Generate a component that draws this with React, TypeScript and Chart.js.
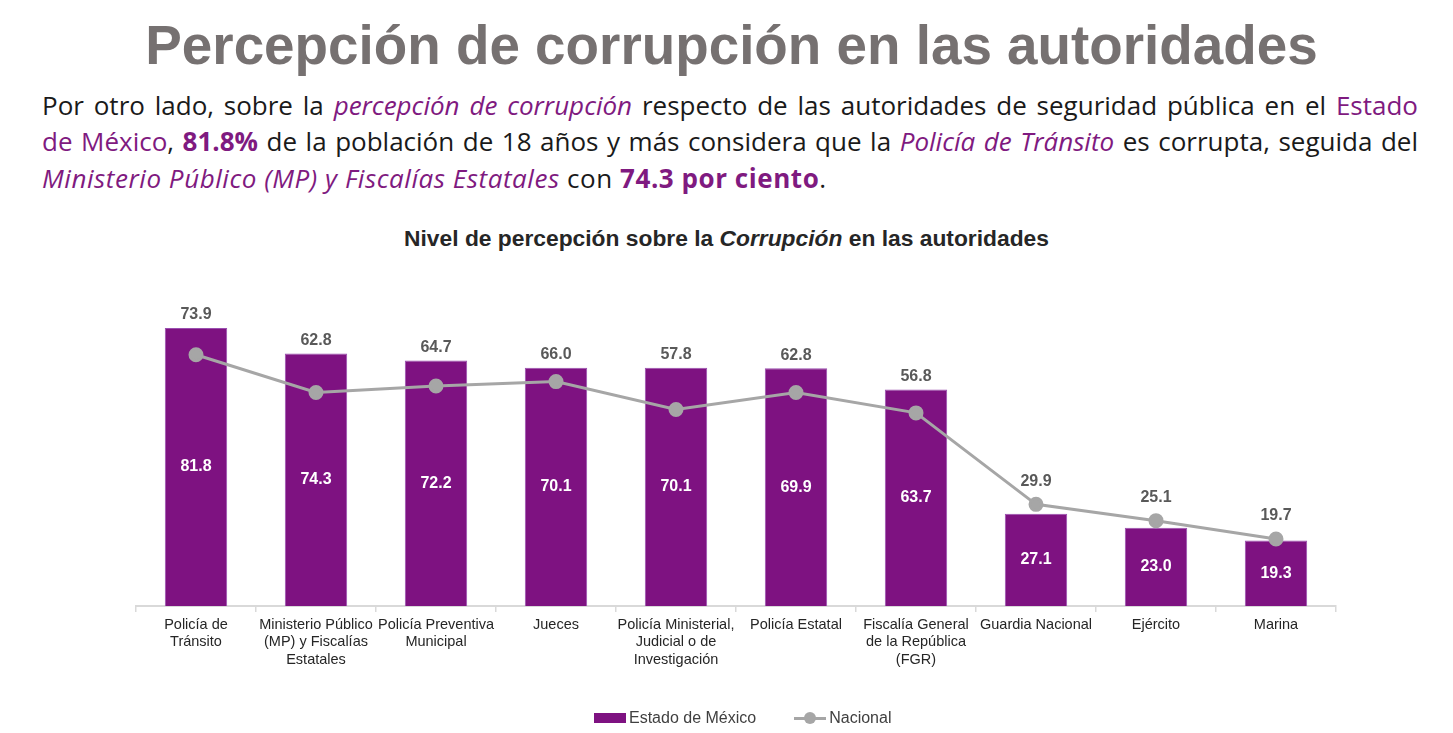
import React, { useEffect, useRef } from "react";
import { Chart, registerables } from "chart.js";

Chart.register(...registerables);

const categories: string[][] = [
  ["Policía de", "Tránsito"],
  ["Ministerio Público", "(MP) y Fiscalías", "Estatales"],
  ["Policía Preventiva", "Municipal"],
  ["Jueces"],
  ["Policía Ministerial,", "Judicial o de", "Investigación"],
  ["Policía Estatal"],
  ["Fiscalía General", "de la República", "(FGR)"],
  ["Guardia Nacional"],
  ["Ejército"],
  ["Marina"],
];
const estadoValues = [81.8, 74.3, 72.2, 70.1, 70.1, 69.9, 63.7, 27.1, 23.0, 19.3];
const nacionalValues = [73.9, 62.8, 64.7, 66.0, 57.8, 62.8, 56.8, 29.9, 25.1, 19.7];
const seriesNames = ["Estado de México", "Nacional"];
const yMin = 0;
const yMax = 90;

const PURPLE = "#7E1281";
const GRAY = "#A6A6A6";
const FONT = '"Liberation Sans", Arial, sans-serif';

const labelsPlugin = {
  id: "valueLabels",
  afterDatasetsDraw(chart: any) {
    const ctx = chart.ctx;
    const barMeta = chart.getDatasetMeta(0);
    const lineMeta = chart.getDatasetMeta(1);
    ctx.save();
    ctx.textAlign = "center";
    ctx.textBaseline = "middle";
    ctx.font = `bold 16px ${FONT}`;
    barMeta.data.forEach((bar: any, i: number) => {
      ctx.fillStyle = "#FFFFFF";
      ctx.fillText(estadoValues[i].toFixed(1), bar.x, (bar.y + bar.base) / 2);
      const pt = lineMeta.data[i];
      const y = Math.min(bar.y - 13, pt.y - 23);
      ctx.fillStyle = "#595959";
      ctx.fillText(nacionalValues[i].toFixed(1), bar.x, y);
    });
    ctx.restore();
  },
};

function BarLineChart() {
  const ref = useRef<HTMLCanvasElement | null>(null);
  useEffect(() => {
    if (!ref.current) return;
    const chart = new Chart(ref.current, {
      type: "bar",
      data: {
        labels: categories,
        datasets: [
          {
            type: "bar",
            label: seriesNames[0],
            data: estadoValues,
            backgroundColor: PURPLE,
            borderColor: "#9A4FB0",
            borderWidth: 1,
            categoryPercentage: 1,
            barPercentage: 0.52,
            order: 2,
          } as any,
          {
            type: "line",
            label: seriesNames[1],
            data: nacionalValues,
            borderColor: GRAY,
            backgroundColor: GRAY,
            borderWidth: 3,
            pointRadius: 6,
            pointBackgroundColor: GRAY,
            pointBorderColor: GRAY,
            tension: 0,
            order: 1,
          } as any,
        ],
      },
      options: {
        responsive: false,
        animation: false,
        layout: { padding: { left: 136, right: 117, top: 40, bottom: 0 } },
        plugins: {
          legend: { display: false },
          tooltip: { enabled: false },
          title: { display: false },
        },
        scales: {
          x: {
            offset: true,
            grid: {
              offset: true,
              drawOnChartArea: false,
              drawTicks: true,
              tickLength: 6,
              color: "#D9D9D9",
              lineWidth: 1.5,
            },
            border: { display: true, color: "#D9D9D9", width: 2 },
            ticks: {
              color: "#262626",
              font: { family: FONT, size: 14.5 },
              padding: 4,
              maxRotation: 0,
              autoSkip: false,
            },
            afterFit(scale: any) {
              scale.height = 127;
            },
          },
          y: {
            display: false,
            min: yMin,
            max: yMax,
          },
        },
      },
      plugins: [labelsPlugin],
    });
    return () => chart.destroy();
  }, []);
  return (
    <canvas
      ref={ref}
      width={1453}
      height={473}
      style={{ position: "absolute", left: 0, top: 260, width: 1453, height: 473 }}
    />
  );
}

const purple = "#7F1A80";

export default function App() {
  const para: React.CSSProperties = {
    position: "absolute",
    left: 42,
    width: 1376,
    fontFamily: '"Open Sans", Lato, sans-serif',
    fontSize: 26,
    color: "#1A1A1A",
    whiteSpace: "nowrap",
    lineHeight: "30px",
  };
  const just: React.CSSProperties = { textAlign: "justify", textAlignLast: "justify" as any, letterSpacing: 0 };
  return (
    <div
      style={{
        position: "fixed",
        left: 0,
        top: 0,
        width: 1453,
        height: 733,
        background: "#FFFFFF",
        overflow: "hidden",
      }}
    >
      <div
        style={{
          position: "absolute",
          left: 5,
          width: 1453,
          top: 14,
          textAlign: "center",
          fontFamily: FONT,
          fontWeight: "bold",
          fontSize: 54.8,
          lineHeight: "62px",
          color: "#767171",
        }}
      >
        Percepción de corrupción en las autoridades
      </div>
      <div style={{ ...para, ...just, top: 90 }}>
        Por otro lado, sobre la <i style={{ color: purple }}>percepción de corrupción</i> respecto de las autoridades de
        seguridad pública en el <span style={{ color: purple }}>Estado</span>
      </div>
      <div style={{ ...para, ...just, top: 126 }}>
        <span style={{ color: purple }}>de México</span>, <b style={{ color: purple }}>81.8%</b> de la población de 18
        años y más considera que la <i style={{ color: purple }}>Policía de Tránsito</i> es corrupta, seguida del
      </div>
      <div style={{ ...para, top: 163, letterSpacing: 0.55 }}>
        <i style={{ color: purple }}>Ministerio Público (MP) y Fiscalías Estatales</i> con{" "}
        <b style={{ color: purple }}>74.3 por ciento</b>.
      </div>
      <div
        style={{
          position: "absolute",
          left: 0,
          width: 1453,
          top: 225,
          textAlign: "center",
          fontFamily: FONT,
          fontWeight: "bold",
          fontSize: 22.8,
          lineHeight: "26px",
          color: "#262626",
        }}
      >
        Nivel de percepción sobre la <i>Corrupción</i> en las autoridades
      </div>
      <BarLineChart />
      <div
        style={{
          position: "absolute",
          top: 708,
          left: 594,
          display: "flex",
          alignItems: "center",
          fontFamily: FONT,
          fontSize: 16,
          color: "#404040",
          height: 20,
        }}
      >
        <div style={{ display: "flex", alignItems: "center", marginRight: 38 }}>
          <div style={{ width: 32, height: 10, background: PURPLE, marginRight: 3 }} />
          <span>{seriesNames[0]}</span>
        </div>
        <div style={{ display: "flex", alignItems: "center" }}>
          <div style={{ position: "relative", width: 32, height: 12, marginRight: 3 }}>
            <div style={{ position: "absolute", left: 0, top: 4.5, width: 32, height: 3, background: GRAY }} />
            <div
              style={{
                position: "absolute",
                left: 10,
                top: 0,
                width: 12,
                height: 12,
                borderRadius: 6,
                background: GRAY,
              }}
            />
          </div>
          <span>{seriesNames[1]}</span>
        </div>
      </div>
    </div>
  );
}
